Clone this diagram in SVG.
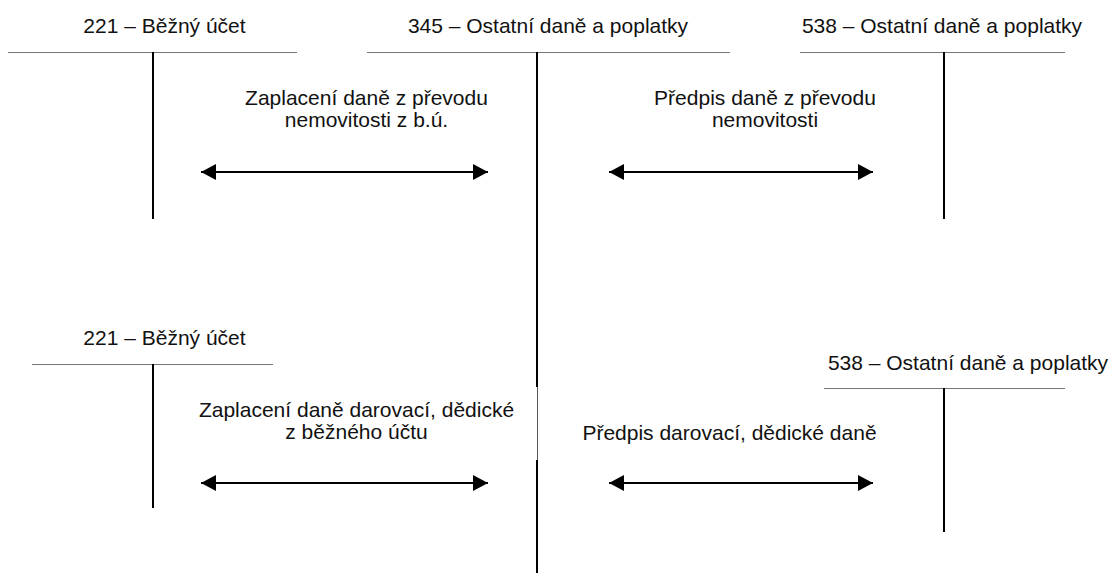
<svg xmlns="http://www.w3.org/2000/svg" width="1114" height="574" viewBox="0 0 1114 574">
<style>
  .t { font-family: "Liberation Sans", Arial, sans-serif; font-size: 21px; fill: #111; text-anchor: middle; }
  .h { stroke: #777; stroke-width: 1; fill: none; }
  .v { stroke: #000; stroke-width: 2; fill: none; }
  .a { stroke: #000; stroke-width: 2; fill: none; marker-start: url(#ah); marker-end: url(#ah); }
</style>
<defs>
  <marker id="ah" viewBox="0 0 15 16" refX="15" refY="8" markerWidth="15" markerHeight="16" markerUnits="userSpaceOnUse" orient="auto-start-reverse">
    <path d="M0,0 L15,8 L0,16 Z" fill="#000"/>
  </marker>
</defs>
<rect width="1114" height="574" fill="#fff"/>
<g id="acc221-top">
  <text class="t" x="164.5" y="33">221 – Běžný účet</text>
  <line class="h" x1="8" y1="52.5" x2="297" y2="52.5"/>
  <line class="v" x1="153" y1="52" x2="153" y2="219"/>
</g>
<g id="acc345">
  <text class="t" x="548" y="33">345 – Ostatní daně a poplatky</text>
  <line class="h" x1="367" y1="52.5" x2="730" y2="52.5"/>
  <line class="v" x1="537" y1="52" x2="537" y2="387"/>
  <line x1="537.5" y1="387" x2="537.5" y2="460" stroke="#555" stroke-width="1"/>
  <line class="v" x1="537" y1="460" x2="537" y2="573"/>
</g>
<g id="acc538-top">
  <text class="t" x="942" y="33">538 – Ostatní daně a poplatky</text>
  <line class="h" x1="800" y1="52.5" x2="1065" y2="52.5"/>
  <line class="v" x1="944" y1="52" x2="944" y2="219"/>
</g>
<g id="acc221-bottom">
  <text class="t" x="164.5" y="345">221 – Běžný účet</text>
  <line class="h" x1="32" y1="364.5" x2="273" y2="364.5"/>
  <line class="v" x1="153" y1="364" x2="153" y2="508"/>
</g>
<g id="acc538-bottom">
  <text class="t" x="968" y="370">538 – Ostatní daně a poplatky</text>
  <line class="h" x1="824" y1="388.5" x2="1065" y2="388.5"/>
  <line class="v" x1="944" y1="388" x2="944" y2="532"/>
</g>
<g id="connectors">
  <line class="a" x1="201" y1="172" x2="488" y2="172"/>
  <line class="a" x1="609" y1="172" x2="873" y2="172"/>
  <line class="a" x1="201" y1="483" x2="488" y2="483"/>
  <line class="a" x1="609" y1="483" x2="873" y2="483"/>
</g>
<g id="labels">
  <text class="t" x="366.5" y="105">Zaplacení daně z převodu</text>
  <text class="t" x="366.5" y="127">nemovitosti z b.ú.</text>
  <text class="t" x="765" y="105">Předpis daně z převodu</text>
  <text class="t" x="765" y="127">nemovitosti</text>
  <text class="t" x="356.5" y="417">Zaplacení daně darovací, dědické</text>
  <text class="t" x="356.5" y="439">z běžného účtu</text>
  <text class="t" x="729.5" y="440">Předpis darovací, dědické daně</text>
</g>
</svg>
